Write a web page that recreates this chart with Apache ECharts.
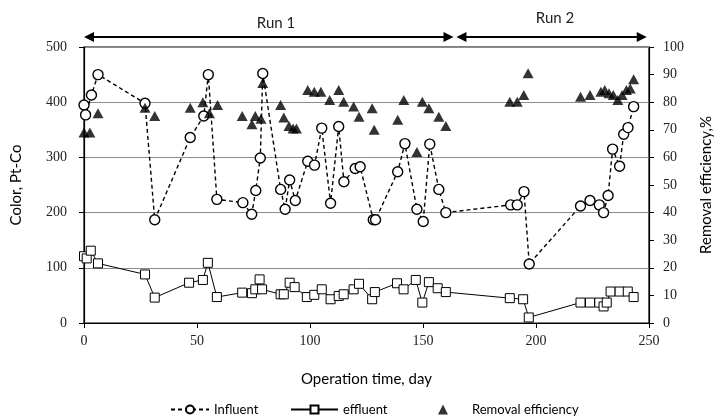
<!DOCTYPE html>
<html>
<head>
<meta charset="utf-8">
<script src="https://cdn.jsdelivr.net/npm/echarts@6/dist/echarts.min.js"></script>
<style>
html,body{margin:0;padding:0;background:#fff;}
#c{width:722px;height:416px;}
</style>
</head>
<body>
<div id="c"></div>
<script>
// ---- Data ----
// [day, colour Pt-Co]
var influent = [[0,395],[0.7,377],[3.3,413],[6.2,450],[27,398],[31.3,187],[47,336],[53,375],[55,450],[58.8,224],[70.3,218],[74.2,197],[76,240],[78,299],[79.1,452],[87,242],[89,206],[91,259],[93.5,222],[99,293],[102,286],[105.2,353],[109.1,217],[112.7,356],[115,256],[120,280],[122.2,283],[128,187],[129,187],[138.8,274],[142,325],[147.3,206],[150.1,184],[153,324],[157,242],[160.1,200],[188.8,214],[191.7,214],[194.7,238],[197,107],[219.7,212],[223.9,222],[228,214],[229.9,200],[231.9,231],[233.9,315],[237,284],[238.8,342],[240.7,354],[243.2,392]];
var effluent = [[0,121],[1.2,117],[3,131],[6.2,108],[27,88],[31.3,46],[46.5,73],[52.6,78],[54.8,109],[58.8,47],[70,55],[74.3,54],[75.8,61],[77.7,79],[78.8,61],[87,52],[88.4,52],[91,73],[93.2,65],[98.6,47],[101.9,51],[105.2,61],[109.1,43],[112.7,49],[114.9,52],[119.3,61],[121.7,71],[127.5,43],[128.7,56],[138.5,72],[141.4,61],[146.8,78],[149.7,37],[152.6,74],[156.5,63],[160.1,56],[188.4,45],[194.3,43],[196.8,10],[219.7,37],[223.9,37],[228,37],[229.9,30],[231.3,37],[233,57],[237,57],[240.6,57],[243.2,47]];
// [day, removal efficiency %]
var removal = [[0,69],[2.6,69],[6.2,76],[27,78],[31.3,75],[47,78],[52.6,80],[55.5,76],[59.1,79],[70,75],[74.3,72],[75.8,75],[78.3,74],[79.1,87],[87,79],[88.4,74.5],[90.7,71.4],[92.5,70.5],[94,70.5],[99,84.4],[101.9,83.8],[104.8,83.8],[108.7,80.8],[112.7,84.4],[114.9,80.2],[119.3,78.4],[121.7,74.7],[127.5,77.8],[128.4,70],[138.8,73.6],[141.5,80.8],[147.3,62],[149.7,80.2],[152.6,77.8],[157,74.7],[160.1,71.4],[188.4,80.2],[191.7,80.2],[194.6,82.6],[196.5,90.5],[219.7,82],[223.9,82.6],[228.7,83.8],[230.4,84.4],[232.3,83.2],[234.2,82.6],[236.2,80.8],[238.1,82.6],[240,84.4],[241.7,85],[243.2,88.3]];
// Run periods [startDay, endDay]
var runNames = ['Run 1','Run 2'];
var runRanges = [[0,163.5],[164.8,249]];

var sansFont = 'Lato';
var serifFont = 'Liberation Serif';

var chart = echarts.init(document.getElementById('c'));
var option = {
  animation: false,
  backgroundColor: '#fff',
  grid: {left: 84, right: 63, top: 47, bottom: 93, show: true, borderColor: '#000', borderWidth: 1.2, backgroundColor: 'transparent'},
  legend: [
    {left: 165, top: 398, itemWidth: 38, itemHeight: 10, itemGap: 5, data: ['Influent'],
     textStyle: {fontFamily: sansFont, fontSize: 13, color: '#000'}},
    {left: 285, top: 398, itemWidth: 47, itemHeight: 10, data: ['effluent'],
     textStyle: {fontFamily: sansFont, fontSize: 13, color: '#000'}},
    {left: 433, top: 398, itemWidth: 10, itemHeight: 10, data: ['Removal efficiency'],
     textStyle: {fontFamily: sansFont, fontSize: 13, color: '#000', padding: [0, 0, 0, 19]}}
  ],
  xAxis: {
    type: 'value', min: 0, max: 250, interval: 50,
    name: 'Operation time, day', nameLocation: 'middle', nameGap: 49,
    nameTextStyle: {fontFamily: sansFont, fontSize: 15, color: '#000'},
    axisLine: {lineStyle: {color: '#000', width: 1.2}},
    axisTick: {show: true, inside: false, length: 5, lineStyle: {color: '#000'}},
    axisLabel: {fontFamily: serifFont, fontSize: 14, color: '#222', margin: 11},
    splitLine: {show: false}
  },
  yAxis: [
    {
      type: 'value', min: 0, max: 500, interval: 100, position: 'left',
      name: 'Color, Pt-Co', nameLocation: 'middle', nameGap: 60,
      nameTextStyle: {fontFamily: sansFont, fontSize: 15, color: '#000'},
      axisLine: {show: true, lineStyle: {color: '#000', width: 1.2}},
      axisTick: {show: true, length: 5, lineStyle: {color: '#000'}},
      axisLabel: {fontFamily: serifFont, fontSize: 14, color: '#222', margin: 17},
      splitLine: {show: true, lineStyle: {color: '#8c8c8c', width: 1}}
    },
    {
      type: 'value', min: 0, max: 100, interval: 10, position: 'right',
      name: 'Removal efficiency,%', nameLocation: 'middle', nameGap: 50,
      nameTextStyle: {fontFamily: sansFont, fontSize: 15, color: '#000'},
      axisLine: {show: true, lineStyle: {color: '#000', width: 1.2}},
      axisTick: {show: true, length: 5, lineStyle: {color: '#000'}},
      axisLabel: {fontFamily: serifFont, fontSize: 14, color: '#222', margin: 14},
      splitLine: {show: false}
    }
  ],
  series: [
    {
      name: 'Influent', type: 'line', yAxisIndex: 0, data: influent,
      symbol: 'circle', symbolSize: 10,
      itemStyle: {color: '#fff', borderColor: '#000', borderWidth: 1.4},
      lineStyle: {color: '#000', width: 1.4, type: [4, 3]},
      z: 3
    },
    {
      name: 'effluent', type: 'line', yAxisIndex: 0, data: effluent,
      symbol: 'rect', symbolSize: 9,
      itemStyle: {color: '#fff', borderColor: '#000', borderWidth: 1},
      lineStyle: {color: '#000', width: 1},
      z: 3
    },
    {
      name: 'Removal efficiency', type: 'scatter', yAxisIndex: 1, data: removal,
      symbol: 'triangle', symbolSize: [11, 10],
      itemStyle: {color: '#000'},
      z: 4
    }
  ]
};
chart.setOption(option);

// Run arrows above the plot, positioned from the x scale
function arrowGraphics() {
  var els = [];
  var yLine = 37;
  runRanges.forEach(function (r, i) {
    var x1 = chart.convertToPixel({xAxisIndex: 0}, r[0]);
    var x2 = chart.convertToPixel({xAxisIndex: 0}, r[1]);
    var head = 10, half = 5;
    els.push({type: 'line', shape: {x1: x1 + head - 1, y1: yLine, x2: x2 - head + 1, y2: yLine},
      style: {stroke: '#000', lineWidth: 2.2}, silent: true});
    els.push({type: 'polygon', shape: {points: [[x1, yLine], [x1 + head, yLine - half], [x1 + head, yLine + half]]},
      style: {fill: '#000'}, silent: true});
    els.push({type: 'polygon', shape: {points: [[x2, yLine], [x2 - head, yLine - half], [x2 - head, yLine + half]]},
      style: {fill: '#000'}, silent: true});
    els.push({type: 'text', x: (i === 0 ? 276 : 555), y: (i === 0 ? 23 : 18),
      style: {text: runNames[i], fontFamily: sansFont, fontSize: 15, fill: '#222', align: 'center', verticalAlign: 'middle'}, silent: true});
  });
  return els;
}
chart.setOption({graphic: arrowGraphics()});
</script>
</body>
</html>
